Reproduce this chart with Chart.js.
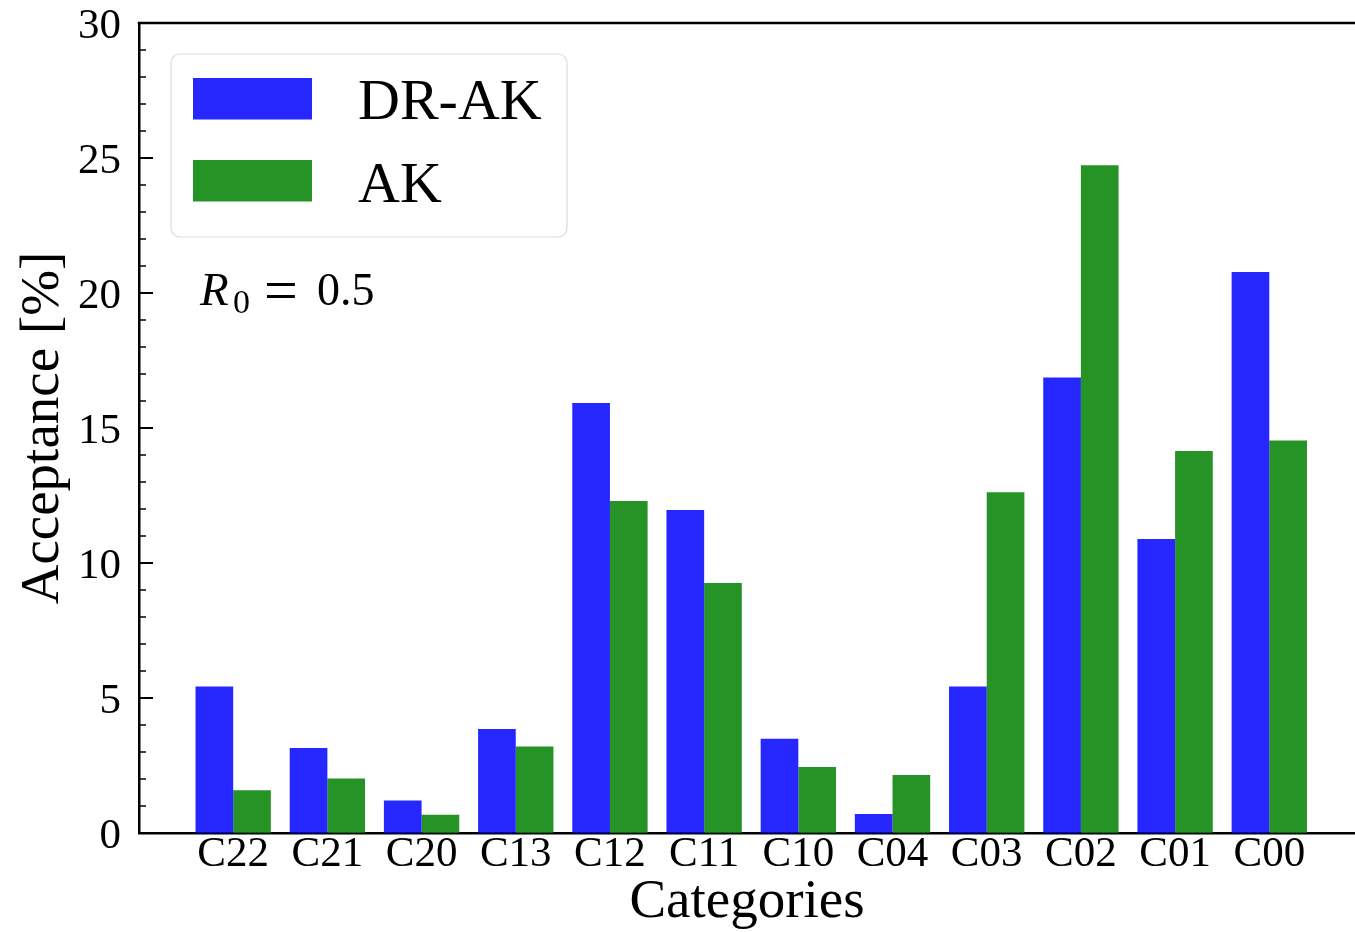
<!DOCTYPE html>
<html>
<head>
<meta charset="utf-8">
<title>Acceptance by category</title>
<script src="https://cdn.jsdelivr.net/npm/chart.js@4.4.1/dist/chart.umd.min.js"></script>
<style>
  html, body { margin: 0; padding: 0; background: #ffffff; overflow: hidden; }
  #wrap { width: 1355px; height: 932px; }
</style>
</head>
<body>
<div id="wrap"><canvas id="chart" width="1355" height="932"></canvas></div>
<script>
// Category labels along the x axis
const categories = ['C22', 'C21', 'C20', 'C13', 'C12', 'C11', 'C10', 'C04', 'C03', 'C02', 'C01', 'C00'];
// Acceptance [%] per category
const acceptanceDRAK = [5.43, 3.15, 1.20, 3.85, 15.93, 11.96, 3.49, 0.70, 5.43, 16.87, 10.89, 20.78];
const acceptanceAK   = [1.58, 2.02, 0.68, 3.20, 12.30, 9.26, 2.44, 2.15, 12.62, 24.73, 14.15, 14.54];
// y axis tick values
const yMajorTicks = [0, 5, 10, 15, 20, 25, 30];
const yMinorTicks = [1, 2, 3, 4, 6, 7, 8, 9, 11, 12, 13, 14, 16, 17, 18, 19, 21, 22, 23, 24, 26, 27, 28, 29];

const SERIF = '"Liberation Serif", "Times New Roman", serif';
const BLUE = 'rgba(0, 0, 255, 0.85)';
const GREEN = 'rgba(0, 128, 0, 0.85)';

// Inward tick marks on the left axis and the top frame line
const framePlugin = {
  id: 'frame',
  afterDatasetsDraw(chart) {
    const {ctx, chartArea, scales} = chart;
    const y = scales.y;
    ctx.save();
    ctx.strokeStyle = '#000';
    ctx.lineCap = 'butt';
    ctx.lineWidth = 2;
    yMajorTicks.forEach(v => {
      const py = y.getPixelForValue(v);
      ctx.beginPath();
      ctx.moveTo(chartArea.left, py);
      ctx.lineTo(chartArea.left + 14, py);
      ctx.stroke();
    });
    ctx.lineWidth = 1.5;
    yMinorTicks.forEach(v => {
      const py = y.getPixelForValue(v);
      ctx.beginPath();
      ctx.moveTo(chartArea.left, py);
      ctx.lineTo(chartArea.left + 7, py);
      ctx.stroke();
    });
    // top frame line
    ctx.lineWidth = 2.5;
    ctx.beginPath();
    ctx.moveTo(chartArea.left - 1.25, chartArea.top);
    ctx.lineTo(chartArea.right + 10, chartArea.top);
    ctx.stroke();
    ctx.restore();
  }
};

// Legend box in the upper left plus the R0 annotation
const annotationPlugin = {
  id: 'legendBox',
  afterDraw(chart) {
    const {ctx} = chart;
    ctx.save();
    // frame
    const bx = 171, by = 54, bw = 396, bh = 183, r = 9;
    ctx.beginPath();
    ctx.moveTo(bx + r, by);
    ctx.arcTo(bx + bw, by, bx + bw, by + bh, r);
    ctx.arcTo(bx + bw, by + bh, bx, by + bh, r);
    ctx.arcTo(bx, by + bh, bx, by, r);
    ctx.arcTo(bx, by, bx + bw, by, r);
    ctx.closePath();
    ctx.fillStyle = 'rgba(255,255,255,0.8)';
    ctx.fill();
    ctx.strokeStyle = '#dcdcdc';
    ctx.lineWidth = 1.2;
    ctx.stroke();

    const rows = [{y: 78, base: 119}, {y: 160, base: 202}];
    chart.data.datasets.forEach((ds, i) => {
      const row = rows[i];
      ctx.fillStyle = ds.backgroundColor;
      ctx.fillRect(193, row.y, 119, 41.5);
      ctx.fillStyle = '#000';
      ctx.font = '58px ' + SERIF;
      ctx.textBaseline = 'alphabetic';
      ctx.textAlign = 'left';
      ctx.fillText(ds.label, 358, row.base);
    });

    // R_0 = 0.5
    ctx.fillStyle = '#000';
    ctx.textAlign = 'left';
    ctx.textBaseline = 'alphabetic';
    ctx.font = 'italic 47px ' + SERIF;
    ctx.fillText('R', 200, 305);
    ctx.font = '34px ' + SERIF;
    ctx.fillText('0', 233, 313);
    ctx.font = '60px ' + SERIF;
    ctx.fillText('=', 264, 310);
    ctx.font = '46px ' + SERIF;
    ctx.fillText('0.5', 317, 305);
    ctx.restore();
  }
};

new Chart(document.getElementById('chart'), {
  type: 'bar',
  data: {
    datasets: [
      {
        label: 'DR-AK',
        data: acceptanceDRAK.map((v, i) => ({x: i, y: v})),
        backgroundColor: BLUE,
        borderWidth: 0
      },
      {
        label: 'AK',
        data: acceptanceAK.map((v, i) => ({x: i, y: v})),
        backgroundColor: GREEN,
        borderWidth: 0
      }
    ]
  },
  plugins: [framePlugin, annotationPlugin],
  options: {
    responsive: false,
    animation: false,
    layout: { padding: { left: 0, top: 23, right: 0, bottom: 0 } },
    datasets: { bar: { categoryPercentage: 0.8, barPercentage: 1.0 } },
    plugins: {
      legend: { display: false },
      tooltip: { enabled: false }
    },
    scales: {
      x: {
        type: 'linear',
        offset: false,
        min: -1.0,
        max: 11.91,
        grid: { display: false, drawTicks: false },
        border: { display: true, color: '#000', width: 2.5 },
        afterBuildTicks(scale) {
          scale.ticks = categories.map((c, i) => ({ value: i }));
        },
        afterFit(scale) {
          scale.height = 99;
          scale.paddingLeft = 0;
          scale.paddingRight = 0;
        },
        ticks: {
          autoSkip: false,
          maxRotation: 0,
          padding: 0,
          color: '#000',
          font: { family: SERIF, size: 43, lineHeight: 1.0 },
          callback: (value) => categories[value]
        },
        title: {
          display: true,
          text: 'Categories',
          color: '#000',
          font: { family: SERIF, size: 55, lineHeight: 1.0 },
          padding: { top: 0, bottom: 2 }
        }
      },
      y: {
        min: 0,
        max: 30,
        grid: { display: false, drawTicks: false },
        border: { display: true, color: '#000', width: 2.5 },
        afterBuildTicks(scale) {
          scale.ticks = yMajorTicks.map(v => ({ value: v }));
        },
        afterFit(scale) {
          scale.width = 139;
          scale.paddingTop = 0;
          scale.paddingBottom = 0;
        },
        ticks: {
          padding: 18,
          labelOffset: 4,
          color: '#000',
          font: { family: SERIF, size: 43, lineHeight: 1.0 }
        },
        title: {
          display: true,
          text: 'Acceptance [%]',
          color: '#000',
          font: { family: SERIF, size: 55, lineHeight: 1.2 },
          padding: { top: 11, bottom: 0 }
        }
      }
    }
  }
});
</script>
</body>
</html>
